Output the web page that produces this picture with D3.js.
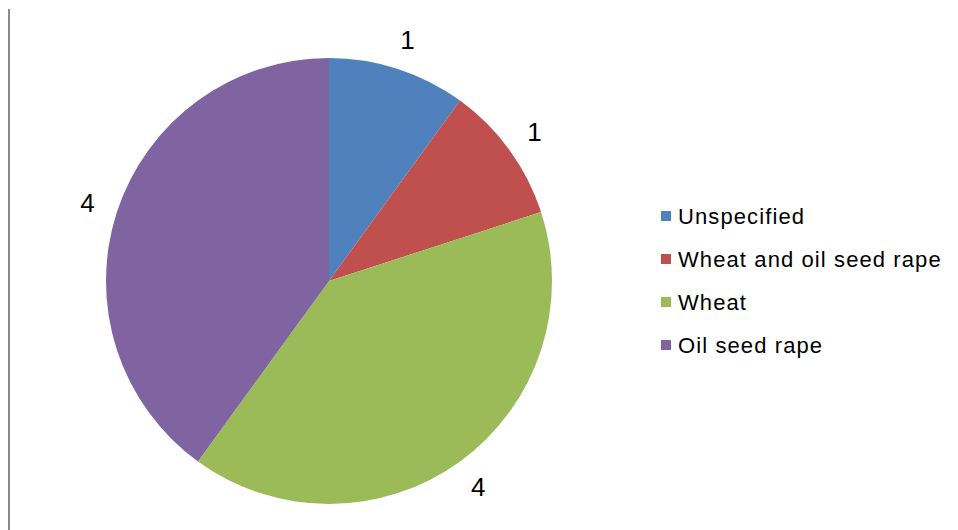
<!DOCTYPE html>
<html>
<head>
<meta charset="utf-8">
<script src="https://cdn.jsdelivr.net/npm/d3@7"></script>
<style>
  html, body { margin: 0; padding: 0; background: #ffffff; }
  svg { display: block; }
  text { font-family: "Liberation Sans", Arial, sans-serif; fill: #000; }
</style>
</head>
<body>
<svg id="chart" width="958" height="530"></svg>
<script>
// Crop categories and number of cases
const categories = ["Unspecified", "Wheat and oil seed rape", "Wheat", "Oil seed rape"];
const values = [1, 1, 4, 4];
const colors = ["#4F81BD", "#C0504D", "#9BBB59", "#8064A2"];

const svg = d3.select("#chart");
const W = 958, H = 530;
const cx = 329, cy = 281, radius = 223, labelRadius = 254;

svg.append("rect").attr("width", W).attr("height", H).attr("fill", "#ffffff");

// left frame edge
svg.append("line")
  .attr("x1", 9).attr("x2", 9)
  .attr("y1", 9).attr("y2", H)
  .attr("stroke", "#8a8a8a").attr("stroke-width", 2);

const data = categories.map((c, i) => ({ category: c, value: values[i], color: colors[i] }));

const pie = d3.pie().value(d => d.value).sort(null);
const arcs = pie(data);
const arc = d3.arc().innerRadius(0).outerRadius(radius);
const labelArc = d3.arc().innerRadius(labelRadius).outerRadius(labelRadius);

const g = svg.append("g").attr("transform", `translate(${cx},${cy})`);

g.selectAll("path.slice")
  .data(arcs)
  .join("path")
  .attr("class", "slice")
  .attr("d", arc)
  .attr("fill", d => d.data.color);

g.selectAll("text.value")
  .data(arcs)
  .join("text")
  .attr("class", "value")
  .attr("transform", d => `translate(${labelArc.centroid(d)})`)
  .attr("text-anchor", "middle")
  .attr("dy", "0.36em")
  .attr("font-size", 26)
  .text(d => d.data.value);

// legend
const legend = svg.append("g").attr("transform", "translate(661,216)");
const rowStep = 43;
const rows = legend.selectAll("g.row")
  .data(data)
  .join("g")
  .attr("class", "row")
  .attr("transform", (d, i) => `translate(0,${i * rowStep})`);

rows.append("rect")
  .attr("x", 0).attr("y", -5)
  .attr("width", 10).attr("height", 10)
  .attr("fill", d => d.color);

rows.append("text")
  .attr("x", 17).attr("y", 0)
  .attr("dy", "0.36em")
  .attr("font-size", 22)
  .attr("letter-spacing", "1.1px")
  .text(d => d.category);
</script>
</body>
</html>
